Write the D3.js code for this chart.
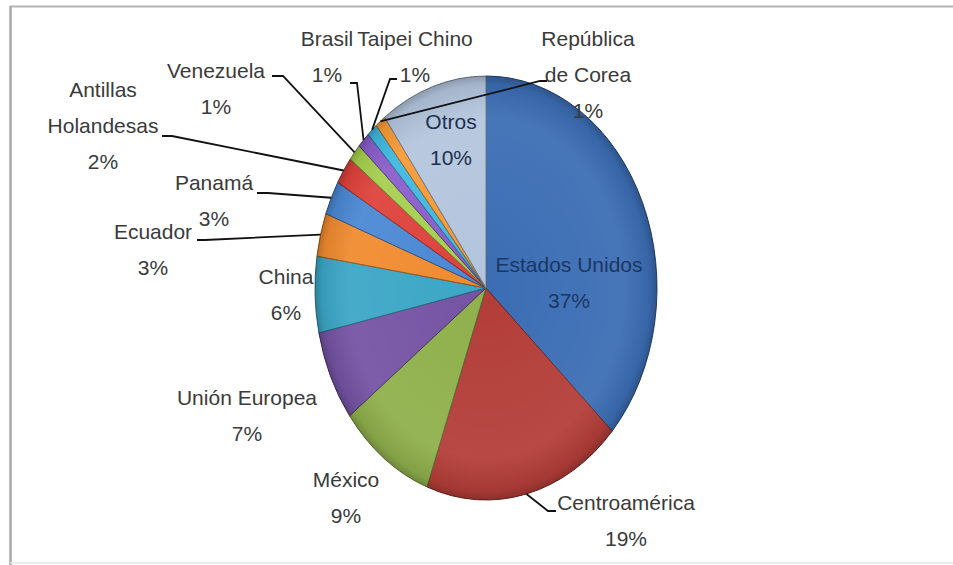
<!DOCTYPE html>
<html>
<head>
<meta charset="utf-8">
<script src="https://cdn.jsdelivr.net/npm/d3@7"></script>
<style>
  html, body { margin: 0; padding: 0; background: #fff; }
  svg { display: block; }
  text { font-family: "Liberation Sans", Arial, sans-serif; }
</style>
</head>
<body>
<svg id="chart" width="953" height="565"></svg>
<script>
// ---- data ----
const categories = ["Estados Unidos", "Centroamérica", "México", "Unión Europea", "China", "Ecuador",
  "Panamá", "Antillas Holandesas", "Venezuela", "Brasil", "Taipei Chino", "República de Corea", "Otros"];
const shares = [36.8, 18.8, 9.1, 6.9, 5.8, 3.3, 2.6, 2.1, 1.3, 1.2, 1.0, 1.0, 10.1];
const labelLines = [["Estados Unidos"], ["Centroamérica"], ["México"], ["Unión Europea"], ["China"], ["Ecuador"],
  ["Panamá"], ["Antillas", "Holandesas"], ["Venezuela"], ["Brasil"], ["Taipei Chino"], ["República", "de Corea"], ["Otros"]];
const sliceColors = ["#3b6db4", "#b33d38", "#8fb04b", "#7553a4", "#3ba6c6", "#f08b2f",
  "#4a88d4", "#de413b", "#a6cf4f", "#8a5dca", "#3fb8e2", "#f79a34", "#b3c5dd"];

// ---- layout (positions of labels / leader elbows) ----
const labelLayout = [
  { x: 569, y: 264, color: "#1b3763" },
  { x: 626, y: 502, leader: [[548, 511], [556, 511]] },
  { x: 346, y: 479 },
  { x: 247, y: 397 },
  { x: 286, y: 276 },
  { x: 153, y: 231, leader: [[205, 240], [197, 240]] },
  { x: 214, y: 182, leader: [[268, 193], [257, 193]] },
  { x: 103, y: 89, leader: [[172, 136], [162, 136]] },
  { x: 216, y: 70, leader: [[283, 76], [272, 76]] },
  { x: 327, y: 38, leader: [[357, 83], [350, 83]] },
  { x: 415, y: 38, leader: [[390, 79], [397, 79]] },
  { x: 588, y: 38, leader: [[540, 81], [547, 81]] },
  { x: 451, y: 121, color: "#1f3050" }
];

const W = 953, H = 565;
const cx = 486, cy = 288, rx = 171, ry = 212;
const lineGap = 36;

const svg = d3.select("#chart");

// frame
svg.append("line").attr("x1", 10).attr("x2", W).attr("y1", 6.5).attr("y2", 6.5)
  .attr("stroke", "#b4b4b4").attr("stroke-width", 2);
svg.append("line").attr("x1", 10.5).attr("x2", 10.5).attr("y1", 6).attr("y2", H)
  .attr("stroke", "#a8a8a8").attr("stroke-width", 2.5);
svg.append("line").attr("x1", 10).attr("x2", W).attr("y1", 563).attr("y2", 563)
  .attr("stroke", "#e6e6e6").attr("stroke-width", 1.5);

const pie = d3.pie().sort(null).value(d => d)(shares);
const arc = d3.arc().innerRadius(0).outerRadius(ry);

const defs = svg.append("defs");
const grad = defs.append("radialGradient").attr("id", "shine")
  .attr("cx", "50%").attr("cy", "50%").attr("r", "50%");
grad.append("stop").attr("offset", "0%").attr("stop-color", "#fff").attr("stop-opacity", 0.0);
grad.append("stop").attr("offset", "80%").attr("stop-color", "#fff").attr("stop-opacity", 0.06);
grad.append("stop").attr("offset", "96%").attr("stop-color", "#000").attr("stop-opacity", 0.08);
grad.append("stop").attr("offset", "100%").attr("stop-color", "#000").attr("stop-opacity", 0.22);

const gPie = svg.append("g")
  .attr("transform", `translate(${cx},${cy}) scale(${rx / ry},1)`);

gPie.selectAll("path.slice").data(pie).join("path")
  .attr("class", "slice")
  .attr("d", arc)
  .attr("fill", (d, i) => sliceColors[i])
  .attr("stroke", (d, i) => d3.color(sliceColors[i]).darker(1.4))
  .attr("stroke-width", 1)
  .attr("vector-effect", "non-scaling-stroke");

gPie.append("circle").attr("r", ry).attr("fill", "url(#shine)").attr("pointer-events", "none");

// leader lines
const edgePoint = d => {
  const a = (d.startAngle + d.endAngle) / 2;
  return [cx + rx * Math.sin(a), cy - ry * Math.cos(a)];
};
const lineGen = d3.line();
pie.forEach((d, i) => {
  const L = labelLayout[i];
  if (!L.leader) return;
  svg.append("path")
    .attr("d", lineGen([edgePoint(d), ...L.leader]))
    .attr("fill", "none")
    .attr("stroke", "#111")
    .attr("stroke-width", 1.8);
});

// labels
const pct = d3.format(".0f");
pie.forEach((d, i) => {
  const L = labelLayout[i];
  const lines = labelLines[i].concat([pct(shares[i]) + "%"]);
  const t = svg.append("text")
    .attr("text-anchor", "middle")
    .attr("font-size", 21)
    .attr("fill", L.color || "#3a3a3a");
  lines.forEach((s, k) => {
    t.append("tspan").attr("x", L.x).attr("y", L.y + k * lineGap).attr("dy", "0.36em").text(s);
  });
});
</script>
</body>
</html>
